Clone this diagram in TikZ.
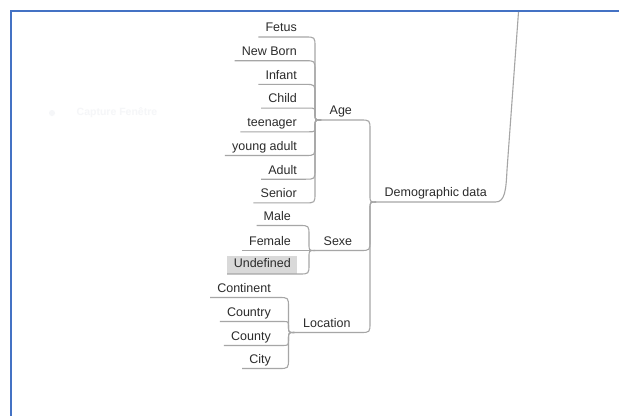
\documentclass[tikz,border=0pt]{standalone}
\usepackage{fontspec}
\setmainfont{Liberation Sans}
\usetikzlibrary{calc}
\definecolor{ink}{HTML}{2B2B2B}
\definecolor{wire}{HTML}{A6A6A6}
\definecolor{frameblue}{HTML}{4472C4}
\definecolor{boxgray}{HTML}{D9D9D9}
\definecolor{ghost}{HTML}{F5F6F8}
\newfontfamily\mapfont{Liberation Sans}

\tikzset{
  txt/.style={font=\mapfont\fontsize{12.5pt}{14pt}\selectfont, text=ink,
    inner xsep=7pt, inner ysep=2pt, text height=9pt, text depth=3pt},
  leaf/.style={txt, anchor=south east},
  topic/.style={txt, anchor=south west, inner xsep=8.5pt},
  link/.style={draw=wire, line width=1.1pt},
  % bracket-like branch: horizontal, rounded turn, vertical run, turn into the hub
  branch/.style={to path={
    let \p1=(\tikztostart), \p2=(\tikztotarget),
        \n1={sign(\y2-\y1)},
        \n2={min(10,abs(\y2-\y1)/2)},
        \n3={min(7,abs(\y2-\y1)/2)},
        \n4={\x2-6}
    in -- ({(\n4-\n2)*1pt},\y1)
       .. controls ({\n4*1pt},\y1) .. ({\n4*1pt},{\y1+\n1*\n2*1pt})
       -- ({\n4*1pt},{\y2-\n1*\n3*1pt})
       .. controls ({\n4*1pt},\y2) .. (\p2)}},
}

\begin{document}
\begin{tikzpicture}[x=1pt,y=-1pt]
\useasboundingbox (0,0) rectangle (619,416);
\fill[white] (0,0) rectangle (619,416);

% faded menu entry behind the map
\fill[ghost] (52,113) circle (3);
\node[text=ghost, font=\mapfont\bfseries\fontsize{10.5pt}{12pt}\selectfont] (ghosttxt) at (117,113) {Capture Fenêtre};

% hubs where branches meet
\coordinate (agehub) at (321,120);
\coordinate (sexhub) at (315,250.5);
\coordinate (lochub) at (294.5,332.5);
\coordinate (demhub) at (376,202);
\coordinate (top) at (518.5,12);

% central topic and its parent link
\node[topic] (dem) at (demhub) {Demographic data};
\draw[link] (dem.south west) -- (dem.south east)
  .. controls (505,202) and (506,190) .. (507,170) -- (top);

% Age
\node[topic] (age) at (agehub) {Age};
\draw[link] (age.south west) -- (age.south east) to[branch] (demhub);
\foreach \name/\label/\y in {fetus/Fetus/37, newborn/New Born/60.7, infant/Infant/84.4,
    child/Child/108.1, teen/teenager/131.8, young/young adult/155.5,
    adult/Adult/179.2, senior/Senior/202.9}{
  \node[leaf] (\name) at (304,\y) {\label};
  \draw[link] (\name.south west) -- (\name.south east) to[branch] (agehub);
}

% Sexe
\node[topic] (sexe) at (sexhub) {Sexe};
\draw[link] (sexe.south west) -- (sexe.south east) to[branch] (demhub);
\node[leaf] (male) at (298,225.5) {Male};
\node[leaf] (female) at (298,250.5) {Female};
\node[leaf, fill=boxgray, inner xsep=6.5pt, inner ysep=3pt] (undef) at (297.5,274) {Undefined};
\foreach \name in {male,female,undef}{
  \draw[link] (\name.south west) -- (\name.south east) to[branch] (sexhub);
}

% Location
\node[topic] (loc) at (lochub) {Location};
\draw[link] (loc.south west) -- (loc.south east) to[branch] (demhub);
\foreach \name/\label/\y in {continent/Continent/297.5, country/Country/321.5,
    county/County/345.5, city/City/368.5}{
  \node[leaf] (\name) at (278,\y) {\label};
  \draw[link] (\name.south west) -- (\name.south east) to[branch] (lochub);
}

% window frame
\fill[frameblue] (9.5,9.5) rectangle (619,12);
\fill[frameblue] (9.5,9.5) rectangle (12,416);
\end{tikzpicture}
\end{document}
